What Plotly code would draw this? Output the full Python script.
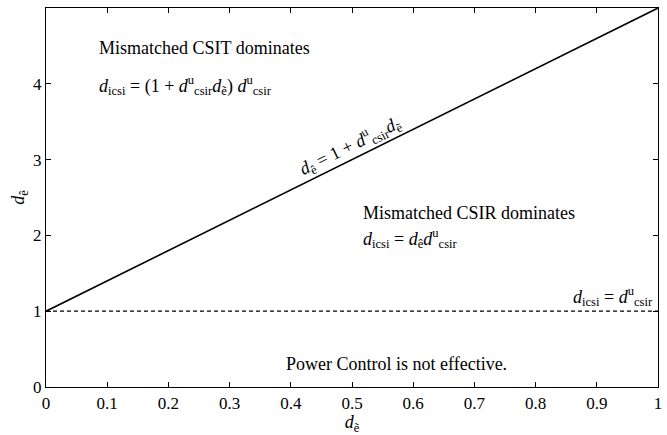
import plotly.graph_objects as go

# data
boundary_x = [0, 1]
boundary_y = [1, 5]          # d_ê = 1 + d^u_csir d_ẽ  (d^u_csir = 4)
pc_x = [0, 1]
pc_y = [1, 1]                # d_icsi = d^u_csir threshold
x_ticks = [0, 0.1, 0.2, 0.3, 0.4, 0.5, 0.6, 0.7, 0.8, 0.9, 1]
x_tick_labels = ["0", "0.1", "0.2", "0.3", "0.4", "0.5", "0.6", "0.7", "0.8", "0.9", "1"]
y_ticks = [0, 1, 2, 3, 4, 5]
y_tick_labels = ["0", "1", "2", "3", "4", "5"]

FONT = "Liberation Serif, Times New Roman, Times, serif"
fig = go.Figure()
fig.add_trace(go.Scatter(x=boundary_x, y=boundary_y, mode="lines",
                         line=dict(color="black", width=1.6), showlegend=False))
fig.add_trace(go.Scatter(x=pc_x, y=pc_y, mode="lines",
                         line=dict(color="black", width=1.3, dash="4px,3px"), showlegend=False))

def ann(x, y, text, xanchor="left", yanchor="middle", angle=0, size=18):
    fig.add_annotation(x=x, y=y, xref="x", yref="y", text=text, showarrow=False,
                       xanchor=xanchor, yanchor=yanchor, textangle=angle,
                       font=dict(family=FONT, size=size, color="black"), align="left")

ann(0.083, 4.47, "Mismatched CSIT dominates")
ann(0.083, 3.98, "<i>d</i><sub>icsi</sub> = (1 + <i>d</i><sup>u</sup><sub>csir</sub><i>d</i><sub>ẽ</sub>) <i>d</i><sup>u</sup><sub>csir</sub>")
ann(0.515, 2.30, "Mismatched CSIR dominates")
ann(0.515, 1.96, "<i>d</i><sub>icsi</sub> = <i>d</i><sub>ê</sub><i>d</i><sup>u</sup><sub>csir</sub>")
ann(0.995, 1.2, "<i>d</i><sub>icsi</sub> = <i>d</i><sup>u</sup><sub>csir</sub>", xanchor="right")
ann(0.572, 0.3, "Power Control is not effective.", xanchor="center")
ann(0.497, 3.18, "<i>d</i><sub>ê</sub> = 1 + <i>d</i><sup>u</sup><sub>csir</sub><i>d</i><sub>ẽ</sub>",
    xanchor="center", angle=-26.2)

axis_common = dict(showgrid=False, zeroline=False, showline=True, linecolor="black",
                   linewidth=1.3, mirror="allticks", ticks="inside", ticklen=5,
                   tickcolor="black", tickwidth=1,
                   tickfont=dict(family=FONT, size=17, color="black"))
fig.update_xaxes(range=[0, 1], tickvals=x_ticks, ticktext=x_tick_labels,
                 title=dict(text="<i>d</i><sub>ẽ</sub>", font=dict(family=FONT, size=18, color="black"),
                            standoff=2), **axis_common)
fig.update_yaxes(range=[0, 5], tickvals=y_ticks, ticktext=y_tick_labels,
                 title=dict(text="<i>d</i><sub>ê</sub>", font=dict(family=FONT, size=18, color="black"),
                            standoff=3), **axis_common)
fig.update_layout(width=667, height=435, margin=dict(l=46, r=5, t=8, b=48),
                  plot_bgcolor="white", paper_bgcolor="white")
fig.write_html("out.html", config={"displayModeBar": False},
               post_script="document.body.style.margin='0';document.body.style.overflow='hidden';")
